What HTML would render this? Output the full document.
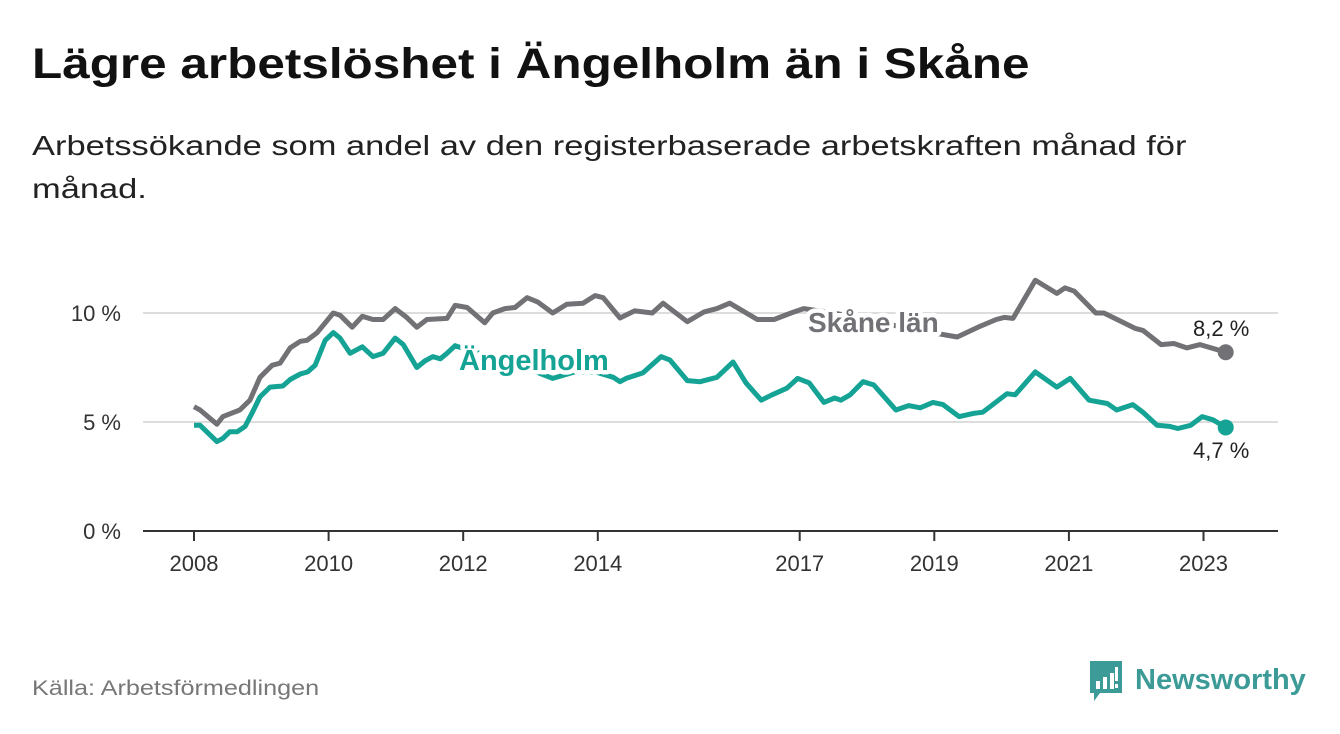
<!DOCTYPE html>
<html><head><meta charset="utf-8"><style>
body{margin:0;width:1340px;height:734px;background:#fff;font-family:"Liberation Sans","DejaVu Sans",sans-serif;overflow:hidden;position:relative}
.t{position:absolute;left:32px;top:40px;font-size:43px;font-weight:bold;color:#111;transform:scaleX(1.15);transform-origin:0 0;white-space:nowrap}
.s{position:absolute;left:32px;top:124px;font-size:28px;line-height:43px;color:#222;transform:scaleX(1.23);transform-origin:0 0;white-space:nowrap}
.src{position:absolute;left:32px;top:677px;font-size:21px;color:#777;transform:scaleX(1.2);transform-origin:0 0;white-space:nowrap}
</style></head><body>
<div class="t">Lägre arbetslöshet i Ängelholm än i Skåne</div>
<div class="s">Arbetssökande som andel av den registerbaserade arbetskraften månad för<br>månad.</div>
<svg id="c" width="1340" height="734" style="position:absolute;left:0;top:0"></svg>
<div class="src">Källa: Arbetsförmedlingen</div>
<svg width="240" height="60" style="position:absolute;left:1085px;top:655px">
<path d="M5 6 h32 v32 h-22 l-6 8 v-8 h-4z" fill="#3c9a97"/>
<rect x="11" y="26" width="4" height="8" fill="#fff"/><rect x="18" y="22" width="4" height="12" fill="#fff"/><rect x="25" y="18" width="4" height="16" fill="#fff"/><rect x="30" y="12" width="3" height="14" fill="#fff"/><rect x="30" y="29" width="3" height="4" fill="#fff"/>
<text x="50" y="34" font-size="29" font-weight="bold" fill="#3c9a97" font-family="Liberation Sans,sans-serif">Newsworthy</text>
</svg>
<script>
const ticksY=[0,5,10];
const tickYLabels=["0 %","5 %","10 %"];
const ticksX=[2008,2010,2012,2014,2017,2019,2021,2023];
const skaneT=[2008,2008.09,2008.34,2008.43,2008.68,2008.83,2008.98,2009.16,2009.28,2009.43,2009.58,2009.68,2009.83,2010.07,2010.17,2010.35,2010.5,2010.66,2010.81,2010.99,2011.16,2011.31,2011.46,2011.76,2011.88,2012.06,2012.32,2012.44,2012.62,2012.77,2012.95,2013.11,2013.33,2013.54,2013.78,2013.96,2014.08,2014.33,2014.55,2014.81,2014.97,2015.33,2015.58,2015.77,2015.96,2016.37,2016.62,2016.87,2017.06,2017.5,2018.0,2018.6,2019.34,2019.65,2019.92,2020.04,2020.17,2020.5,2020.82,2020.94,2021.08,2021.4,2021.52,2021.98,2022.1,2022.37,2022.56,2022.75,2022.95,2023.33];
const skaneV=[5.7,5.55,4.9,5.25,5.55,6.0,7.05,7.6,7.7,8.4,8.7,8.75,9.1,10.0,9.9,9.35,9.85,9.7,9.7,10.2,9.8,9.35,9.7,9.75,10.35,10.25,9.55,10.0,10.2,10.25,10.7,10.5,10.0,10.4,10.45,10.8,10.7,9.77,10.1,10.0,10.45,9.6,10.05,10.2,10.45,9.7,9.7,10.0,10.2,10.0,9.7,9.3,8.9,9.35,9.7,9.8,9.75,11.5,10.9,11.15,11.0,10.0,10.0,9.3,9.2,8.55,8.6,8.4,8.55,8.2];
const angT=[2008,2008.09,2008.34,2008.43,2008.53,2008.64,2008.76,2008.86,2008.98,2009.13,2009.32,2009.43,2009.58,2009.69,2009.8,2009.95,2010.07,2010.17,2010.32,2010.5,2010.66,2010.81,2010.99,2011.11,2011.31,2011.43,2011.55,2011.66,2011.76,2011.88,2012.18,2012.55,2012.92,2013.33,2013.66,2013.96,2014.23,2014.33,2014.42,2014.67,2014.94,2015.07,2015.33,2015.52,2015.77,2016.01,2016.2,2016.43,2016.59,2016.81,2016.97,2017.14,2017.36,2017.52,2017.61,2017.75,2017.94,2018.1,2018.43,2018.62,2018.79,2018.98,2019.13,2019.37,2019.59,2019.72,2020.08,2020.2,2020.5,2020.82,2021.02,2021.3,2021.57,2021.71,2021.95,2022.1,2022.31,2022.5,2022.62,2022.81,2022.98,2023.14,2023.33];
const angV=[4.85,4.85,4.1,4.25,4.55,4.55,4.8,5.4,6.15,6.6,6.65,6.95,7.2,7.3,7.6,8.75,9.1,8.85,8.15,8.45,8.0,8.15,8.85,8.55,7.5,7.8,8.0,7.9,8.15,8.5,8.2,7.9,7.5,7.0,7.3,7.3,7.05,6.85,7.0,7.25,8.0,7.85,6.9,6.85,7.05,7.75,6.8,6.0,6.25,6.55,7.0,6.8,5.9,6.1,6.0,6.25,6.85,6.7,5.55,5.75,5.65,5.9,5.8,5.25,5.4,5.45,6.3,6.25,7.3,6.6,7.0,6.0,5.85,5.55,5.8,5.45,4.85,4.8,4.7,4.85,5.25,5.1,4.75];
const svg=document.getElementById('c');const NS='http://www.w3.org/2000/svg';
const X=t=>194+(t-2008)*67.3, Y=v=>531-v*21.8;
function mk(tag,a,p){const e=document.createElementNS(NS,tag);for(const k in a)e.setAttribute(k,a[k]);(p||svg).appendChild(e);return e;}
ticksY.forEach((v,i)=>{
 if(v>0){const g=mk('line',{x1:143,x2:1278,y1:Y(v),y2:Y(v),stroke:'#ddd','stroke-width':2});
 
 }
 const t=mk('text',{x:121,y:Y(v)+8,'text-anchor':'end','font-size':22,fill:'#333'});t.textContent=tickYLabels[i];
 
 
});
const ax=mk('line',{x1:143,x2:1278,y1:531,y2:531,stroke:'#333','stroke-width':2});


ticksX.forEach(y=>{
 mk('line',{x1:X(y),x2:X(y),y1:531,y2:541,stroke:'#333','stroke-width':2});
 const t=mk('text',{x:X(y),y:571,'text-anchor':'middle','font-size':22,fill:'#333'});t.textContent=y;
 
 
});
function line(T,V,col,name){
 const p=mk('path',{d:T.map((t,i)=>(i?'L':'M')+X(t).toFixed(1)+' '+Y(V[i]).toFixed(1)).join(''),fill:'none',stroke:col,'stroke-width':5,'stroke-linejoin':'round'});
 
 
 const n=T.length-1;
 const d=mk('circle',{cx:X(T[n]),cy:Y(V[n]),r:8,fill:col});
 
 
}
line(skaneT,skaneV,'#727176','skane-line');
line(angT,angV,'#14a394','angelholm-line');
function lab(x,y,txt,col,sz,w,name){const t=mk('text',{x:x,y:y,'font-size':sz,'font-weight':w,fill:col,stroke:'#fff','stroke-width':9,'paint-order':'stroke','stroke-linejoin':'round'});t.textContent=txt;
 
 }
lab(808,332,'Skåne län','#727176',28,'bold','skane-label');
lab(459,370,'Ängelholm','#14a394',29,'bold','angelholm-label');
lab(1193,336,'8,2 %','#222',22,'normal','skane-value-label');
lab(1193,458,'4,7 %','#222',22,'normal','angelholm-value-label');
</script>
</body></html>
